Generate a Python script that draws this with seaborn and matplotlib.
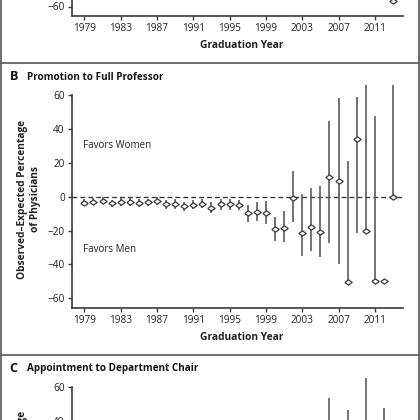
import numpy as np
import pandas as pd
import seaborn as sns
import matplotlib
matplotlib.use("Agg")
import matplotlib.pyplot as plt
from matplotlib.lines import Line2D

# ---------------- data ----------------
years_b = list(range(1979, 2014))
value_b = [-3.5, -2.9, -2.4, -3.9, -3.1, -3.1, -3.7, -3.3, -2.6, -4.5,
           -4.3, -5.7, -4.7, -4.1, -6.5, -4.5, -4.5, -4.9, -9.6, -8.8,
           -9.4, -19.2, -18.3, -1.0, -21.2, -18.1, -20.8, 11.6, 9.0, -50.1,
           34.2, -20.0, -50.0, -50.0, 0.0]
low_b = [-5.7, -5.1, -4.6, -6.1, -5.3, -5.3, -5.9, -5.5, -4.8, -7.3,
         -7.1, -8.5, -7.5, -6.9, -9.7, -7.7, -7.7, -8.1, -14.7, -14.3,
         -16.1, -26.0, -26.5, -15.1, -34.8, -31.9, -35.8, -27.1, -39.7, -50.1,
         -21.6, -20.0, -50.0, -50.0, 0.0]
high_b = [-1.3, -0.7, -0.2, -1.7, -0.9, -0.9, -1.5, -1.1, -0.4, -1.7,
          -1.5, -2.9, -1.9, -1.3, -3.3, -1.3, -1.3, -1.7, -4.9, -3.3,
          -2.6, -11.8, -8.3, 15.2, 1.6, 4.9, 6.3, 44.7, 58.0, 21.0,
          59.0, 66.0, 47.6, -50.0, 66.0]

# panel A: only its lowest point is inside the crop
years_a = [2013]
value_a = [-57.0]

# panel C: only the tops of four intervals are inside the crop
years_c = [2006, 2008, 2010, 2012]
high_c = [53.5, 46.3, 65.0, 47.6]
low_c = [30.0, 30.0, 30.0, 30.0]

year_ticks = list(range(1979, 2012, 4))
y_ticks = [-60, -40, -20, 0, 20, 40, 60]
y_ticks_a = [-60]
y_ticks_c = [40, 60]

ylabel_text = "Observed\u2013Expected Percentage\nof Physicians"

# ---------------- style ----------------
sns.set_theme(style="white")
plt.rcParams["font.family"] = ["Open Sans", "DejaVu Sans"]
DARK = "#3a3a3a"
BAR = "#5a5a5a"
TXT = "#222222"

W = H = 420
fig = plt.figure(figsize=(4.2, 4.2), dpi=100)

XL, XR = 71.7, 403.0
XMIN, XMAX = 1977.6, 2014.1
SCALE = 1.695
YMIN, YMAX = -65.5, 66.0

def minus(t):
    return str(t).replace("-", "\u2212")

def make_axes(zero_px, yticks, show_x=True):
    top = zero_px - YMAX * SCALE
    bot = zero_px - YMIN * SCALE
    ax = fig.add_axes([XL / W, 1 - bot / H, (XR - XL) / W, (bot - top) / H])
    ax.set_xlim(XMIN, XMAX)
    ax.set_ylim(YMIN, YMAX)
    ax.patch.set_alpha(0)
    for s in ["top", "right"]:
        ax.spines[s].set_visible(False)
    for s in ["left", "bottom"]:
        ax.spines[s].set_color(DARK)
        ax.spines[s].set_linewidth(1.2)
    ax.spines["left"].set_bounds(YMIN, 60)
    ax.set_yticks(yticks)
    ax.set_yticklabels([minus(t) for t in yticks])
    if show_x:
        ax.set_xticks(year_ticks)
    else:
        ax.set_xticks([])
    ax.tick_params(axis="both", which="major", length=3, width=1.0,
                   color=DARK, labelsize=7.2, labelcolor=TXT, pad=2,
                   direction="out", left=True, bottom=True)
    ax.set_xlabel("")
    ax.set_ylabel("")
    return ax

diamond = [(-1, 0), (0, 0.72), (1, 0), (0, -0.72), (-1, 0)]

def draw_points(ax, yrs, vals, lows=None, highs=None):
    if lows is not None:
        ax.vlines(yrs, lows, highs, color=BAR, lw=1.2, zorder=2)
    df = pd.DataFrame({"year": yrs, "value": vals})
    sns.scatterplot(data=df, x="year", y="value", ax=ax, marker=diamond,
                    s=28, facecolor="white", edgecolor=DARK, linewidth=0.9,
                    zorder=3, legend=False)
    ax.set_xlabel("")
    ax.set_ylabel("")

def ylabel(zero_px):
    fig.text(29 / W, 1 - (zero_px + 2.3) / H, ylabel_text,
             ha="center", va="center", rotation=90, fontsize=7.3,
             fontweight="bold", color=TXT, linespacing=1.35,
             multialignment="center")

# ----- panel A (bottom edge only) -----
zeroA = 6.5 - 60 * SCALE
axA = make_axes(zeroA, y_ticks_a)
draw_points(axA, years_a, value_a)
fig.text(242 / W, 1 - 46 / H, "Graduation Year", ha="center", va="center",
         fontsize=7.4, fontweight="bold", color=TXT)

# ----- panel B -----
zeroB = 196.7
axB = make_axes(zeroB, y_ticks)
axB.axhline(0, color=DARK, lw=1.0, ls=(0, (3.5, 2.2)), zorder=1)
draw_points(axB, years_b, value_b, low_b, high_b)
axB.text(1978.9, 30.5, "Favors Women", ha="left", va="center", fontsize=7.0,
         color=TXT)
axB.text(1978.9, -30.9, "Favors Men", ha="left", va="center", fontsize=7.0,
         color=TXT)
fig.text(242 / W, 1 - 338 / H, "Graduation Year", ha="center", va="center",
         fontsize=7.4, fontweight="bold", color=TXT)
ylabel(zeroB)
fig.text(9.5 / W, 1 - 77 / H, "B", ha="left", va="center", fontsize=9,
         fontweight="bold", color="#111111")
fig.text(27 / W, 1 - 77 / H, "Promotion to Full Professor", ha="left",
         va="center", fontsize=7.1, fontweight="bold", color="#111111")

# ----- panel C (top edge only) -----
zeroC = 386.7 + 60 * SCALE
axC = make_axes(zeroC, y_ticks_c, show_x=False)
axC.vlines(years_c, low_c, high_c, color=BAR, lw=1.2, zorder=2)
ylabel(zeroC)
fig.text(9.5 / W, 1 - 369 / H, "C", ha="left", va="center", fontsize=9,
         fontweight="bold", color="#111111")
fig.text(27 / W, 1 - 369 / H, "Appointment to Department Chair", ha="left",
         va="center", fontsize=7.1, fontweight="bold", color="#111111")

# ----- panel frame lines -----
FR = "#555555"
for xp in (1.0, 418.5):
    fig.add_artist(Line2D([xp / W, xp / W], [0, 1], color=FR, lw=1.2))
for yp in (63.3, 355.0):
    fig.add_artist(Line2D([1.0 / W, 418.5 / W], [1 - yp / H, 1 - yp / H],
                          color=FR, lw=1.2))

fig.savefig("out.png", dpi=100, facecolor="white")
